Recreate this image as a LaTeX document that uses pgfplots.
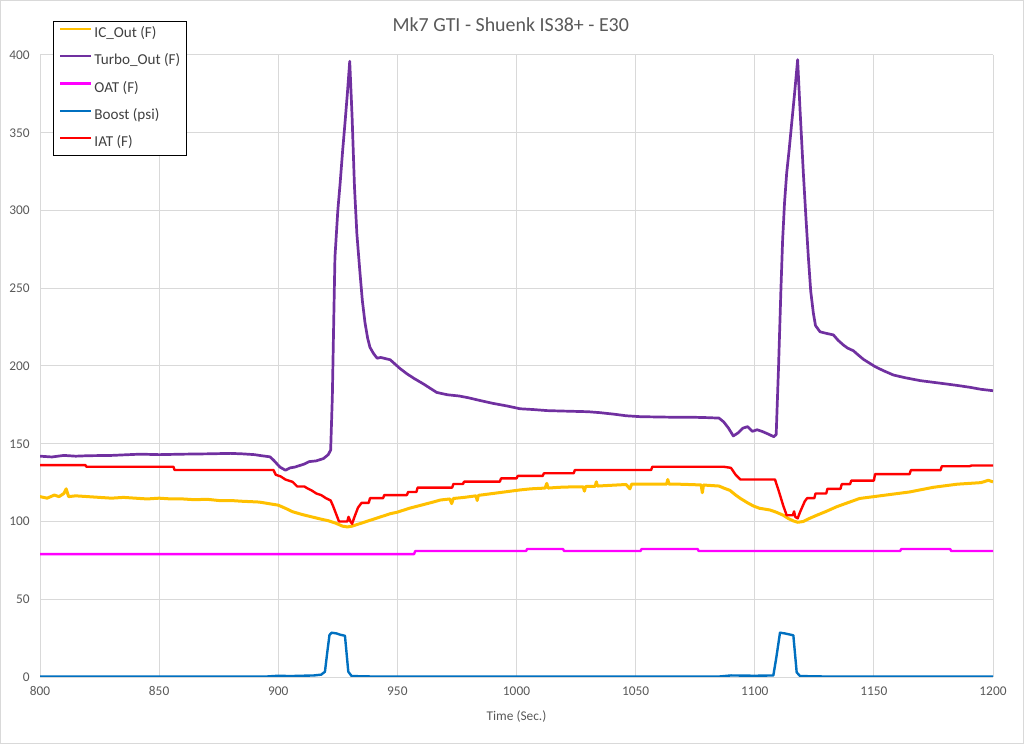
\documentclass[border=0pt]{standalone}
\usepackage{fontspec}
\setmainfont{Carlito}
\usepackage{pgfplots}
\pgfplotsset{compat=1.18}

\definecolor{icout}{HTML}{FFC000}
\definecolor{turbo}{HTML}{7030A0}
\definecolor{oat}{HTML}{FF00FF}
\definecolor{boost}{HTML}{0070C0}
\definecolor{iat}{HTML}{FF0000}
\definecolor{gridc}{HTML}{D9D9D9}
\definecolor{txt}{HTML}{595959}

\begin{document}
\begin{tikzpicture}
\useasboundingbox (-20bp,-33.5bp) rectangle (492bp,338.5bp);
\begin{axis}[
    scale only axis,
    width=476.5bp, height=311bp,
    xmin=800, xmax=1200, ymin=0, ymax=400,
    xtick={800,850,...,1200},
    ytick={0,50,...,400},
    axis line style={draw=none},
    grid=major,
    major grid style={gridc, line width=0.5bp},
    major tick length=0pt,
    /pgf/number format/assume math mode=true,
    /pgf/number format/1000 sep={},
    tick label style={font=\fontsize{6.7}{8}\selectfont, text=txt},
    xticklabel style={anchor=north, inner sep=0pt, yshift=-4.5bp},
    yticklabel style={anchor=east, inner sep=0pt, xshift=-5bp},
    xlabel={Time (Sec.)},
    xlabel style={at={(axis description cs:0.5,0)}, anchor=center, yshift=-20bp,
        font=\fontsize{6.7}{8}\selectfont, text=txt},
    title={Mk7 GTI - Shuenk IS38+ - E30},
    every axis title shift=0pt,
    title style={at={(rel axis cs:0.494,1.048)}, anchor=center, inner sep=0pt,
        font=\fontsize{10}{12}\selectfont, text=txt},
    legend cell align=left,
    legend image code/.code={\draw[#1, line width=1.1bp] (0bp,2.4bp) -- (15.5bp,2.4bp);},
    legend style={at={(rel axis cs:0.0133,1.055)}, anchor=north west,
        draw=black, fill=white,
        font=\fontsize{7.6}{9}\selectfont, text=black!75,
        inner xsep=3.1bp, inner ysep=2.6bp,
        row sep=6.25bp, column sep=1bp,
        nodes={inner sep=0pt, text height=5.6bp, text depth=1.8bp}},
    ser/.style={line width=1.2bp, line join=round},
]
% IC_Out
\addplot[icout, ser, line width=1.5bp] coordinates {
(800,116) (803,115) (806,117) (808,116) (810,118) (811,121) (812,116) (815,116.5)
(820,116) (825,115.5) (830,115) (835,115.5) (840,115) (845,114.5) (850,115)
(855,114.5) (860,114.5) (865,114) (870,114.3) (875,113.5) (880,113.5) (885,113)
(888,112.8) (892,112.5) (896,111.5) (900,110.5) (903,108.5) (906,106.3) (910,104.5)
(914,103) (918,101.5) (921,100.5) (924,99) (927,97) (929,96.5) (931,97) (933,98)
(936,99.5) (939,101) (941,102) (944,103.5) (947,105) (950,106) (955,108.5)
(960,110.5) (965,112.5) (968,113.8) (972,114.5) (972.8,111.5) (973.5,114.8)
(978,115.5) (983,116.5) (983.5,113.5) (984,116.8) (990,118) (995,119)
(1001.5,120.3) (1006,121) (1012,121.5) (1012.7,124.5) (1013.3,121.5) (1018,122)
(1024,122.3) (1028,122.3) (1028.5,119.5) (1029,122.5) (1033,122.6) (1033.5,125.5)
(1034,122.8) (1040,123.3) (1046,123.8) (1047.6,121) (1048.3,124) (1052,124.1)
(1058,124) (1063,124) (1063.5,127) (1064,124) (1068,124) (1072,123.8)
(1077.5,123.5) (1078,118.5) (1078.5,123.5) (1080,123.3) (1085,122.8) (1087,121.5)
(1089.6,120) (1092,117) (1094,114.8) (1097,112) (1099.4,110) (1102,108.5)
(1106.4,107.4) (1109,106) (1112,104) (1114,102) (1116,100.5) (1118,99.5)
(1120.4,100) (1123,102) (1126,104) (1130,106.5) (1134.4,109.5) (1138,111.5)
(1144,114.8) (1150,116) (1155,117) (1160,118) (1165,119) (1170,120.5) (1175,122)
(1180,123) (1185,124) (1190,124.5) (1195,125) (1198,126.5) (1200,125.5)
};
\addlegendentry{IC\_Out (F)}
% Turbo_Out
\addplot[turbo, ser, line width=1.35bp] coordinates {
(800,142) (805,141.5) (810,142.5) (815,142) (820,142.3) (830,142.5) (842,143.3)
(850,143) (860,143.3) (870,143.5) (880,143.8) (885,143.5) (890,143) (893,142.3)
(896.5,141.6) (898,139.5) (900.7,135) (903,133) (905,134.5) (907,135) (909,136)
(911,137) (913,138.5) (916,139) (919,140.5) (921,143) (922,146) (922.7,180)
(923.3,230) (923.8,270) (925,300) (926,318) (927,338) (928,356) (929,375)
(930,396) (931,360) (932,315) (933,285) (934.3,260) (935.3,242) (936.4,228)
(937.5,218) (938.5,212) (940,208) (941.5,205) (943,205.5) (947,204)
(951,198.5) (954,195) (957,192) (961,188.4) (966.5,183) (971,181.5)
(976,180.7) (980,179.5) (985,177.7) (990,176) (996,174.3) (1001.5,172.5)
(1007,172) (1013,171.3) (1020,171) (1030,170.6) (1035,170) (1041,169)
(1046,168) (1052,167.4) (1060,167.2) (1068,167) (1075,167) (1080,166.8)
(1085,166.5) (1087,164) (1089,160) (1091,155) (1093,157) (1095,160) (1097,161)
(1099,158) (1101,159) (1103,158) (1106,156) (1108,154.5) (1109,156) (1110,200)
(1111,250) (1111.7,281) (1112.5,305) (1113.4,324) (1114.5,340) (1115.5,356)
(1116.7,375) (1118,397) (1119,365) (1120.4,324) (1121.5,295) (1122.5,270)
(1123.5,248) (1124.6,234) (1125.5,226) (1127.4,222) (1130,221) (1133,220)
(1135,216.5) (1137.2,213.5) (1139,211.5) (1141.4,209.8) (1143.5,207)
(1145.6,204.3) (1148,202) (1150.5,199.6) (1154,197) (1158.2,194.2)
(1163,192.5) (1169.4,190.6) (1175,189.5) (1180.6,188.4) (1185,187.5)
(1190.3,186.3) (1195,185) (1200,184.1)
};
\addlegendentry{Turbo\_Out (F)}
% OAT
\addplot[oat, ser] coordinates {
(800,79) (957,79) (957.5,81) (1004,81) (1004.5,82.3) (1019.5,82.3) (1020,81)
(1052,81) (1052.5,82.3) (1076,82.3) (1076.5,81) (1161,81) (1161.5,82.3)
(1182,82.3) (1182.5,81) (1200,81)
};
\addlegendentry{OAT (F)}
% Boost
\addplot[boost, ser] coordinates {
(800,0.3) (850,0.3) (895,0.3) (900,0.8) (905,0.6) (910,0.8) (915,1) (918,1.5)
(919.6,3.4) (920.5,15) (921.5,27) (922.4,28.5) (924.5,28) (926,27.2) (928,26.5)
(929.4,3.4) (930.8,0.6) (940,0.3) (1000,0.2) (1085,0.3) (1090,1) (1100,0.8)
(1107.8,1) (1109,12) (1110.6,28.5) (1112.7,28) (1116.2,26.8) (1117.6,3)
(1119,0.6) (1130,0.3) (1200,0.3)
};
\addlegendentry{Boost (psi)}
% IAT
\addplot[iat, ser] coordinates {
(800,136.3) (819,136.3) (819.5,135.2) (856,135.2) (856.5,133.1) (898,133.1)
(899,130) (901,129) (903,127) (906,125.5) (908,122.5) (911,122.5)
(912,121.5) (914,120) (916,118) (918,117) (920,115) (922,113.5) (923,110)
(924.5,104) (925.5,100) (929,100) (929.5,103) (930.3,100) (931,98.5) (932,103)
(933.5,109) (935,112) (938,112) (938.5,115) (944,115) (944.5,117) (954,117)
(954.5,119) (958,119) (958.5,121.8) (973,121.8) (973.5,124.1) (977.5,124.1)
(978,125.6) (993,125.6) (993.5,127.7) (1000,127.7) (1000.5,129.3) (1011,129.3)
(1011.5,131) (1024,131) (1024.5,133.1) (1056.5,133.1) (1057,135.2) (1087,135.2)
(1090,134.5) (1092,130) (1094,127) (1108.5,127) (1110,120) (1112,110)
(1113.4,104) (1116,104) (1116.5,106.5) (1117,103) (1118,102) (1119,106)
(1121,113) (1122,115) (1125,115) (1125.5,118) (1130,118) (1130.5,121)
(1136,121) (1136.5,124) (1140,124) (1140.5,126.3) (1150,126.3) (1150.5,130.5)
(1165,130.5) (1165.5,133) (1178,133) (1178.5,135.5) (1190,135.5) (1191,136)
(1200,136)
};
\addlegendentry{IAT (F)}
\end{axis}
\draw[gridc, line width=0.5bp] (-19.75bp,-33.25bp) rectangle (491.75bp,338.25bp);
\end{tikzpicture}
\end{document}
